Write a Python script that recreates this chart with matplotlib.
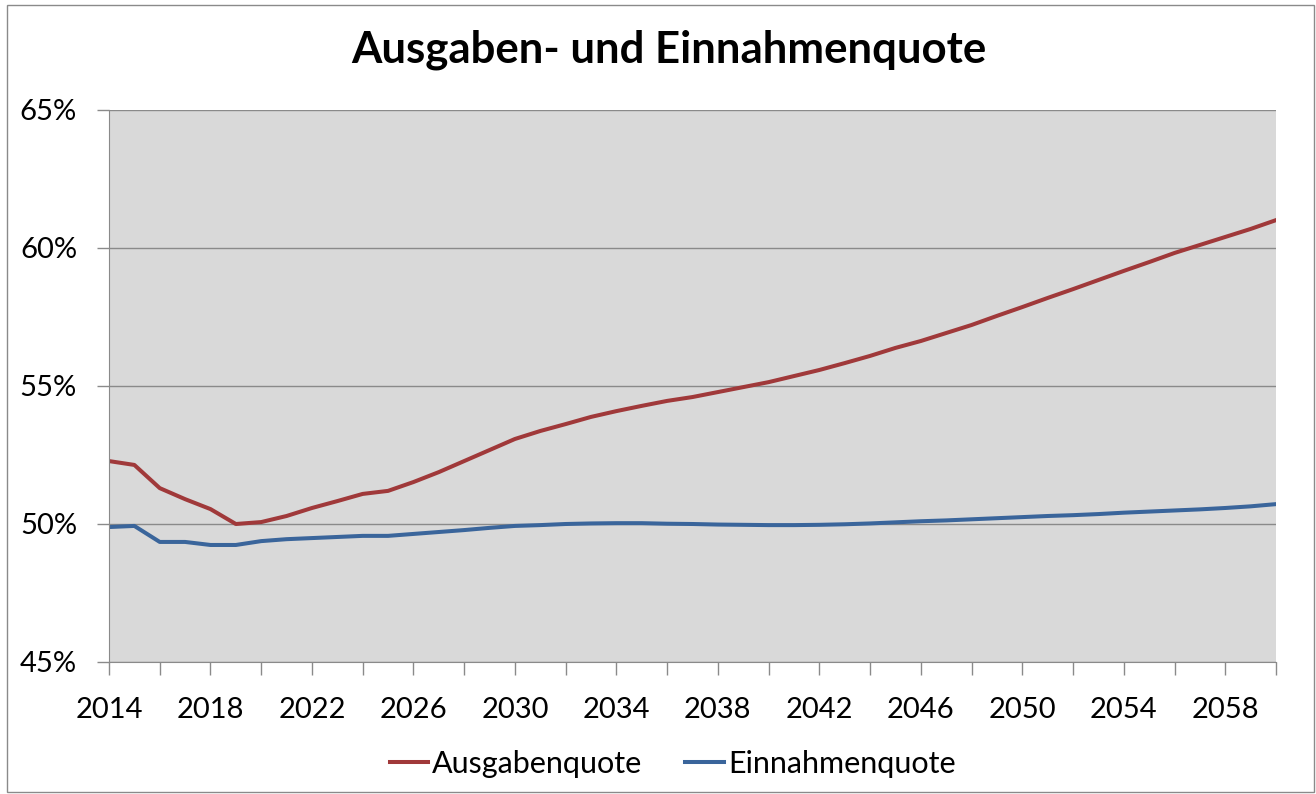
import numpy as np
import matplotlib.pyplot as plt
from matplotlib.patches import Rectangle
from matplotlib.ticker import FuncFormatter, MultipleLocator

plt.rcParams['font.family'] = ['Lato', 'DejaVu Sans']

years = list(range(2014, 2061))
ausgaben = [52.28, 52.14, 51.30, 50.90, 50.54, 50.00, 50.07, 50.29, 50.58, 50.83,
            51.09, 51.20, 51.52, 51.88, 52.28, 52.68, 53.08, 53.37, 53.62, 53.88,
            54.09, 54.28, 54.46, 54.60, 54.78, 54.96, 55.14, 55.36, 55.58, 55.83,
            56.09, 56.38, 56.63, 56.92, 57.21, 57.54, 57.86, 58.19, 58.51, 58.84,
            59.17, 59.49, 59.82, 60.11, 60.40, 60.69, 61.01]
einnahmen = [49.89, 49.93, 49.35, 49.35, 49.24, 49.24, 49.38, 49.45, 49.49, 49.53,
             49.57, 49.57, 49.64, 49.71, 49.78, 49.86, 49.93, 49.96, 50.00, 50.02,
             50.03, 50.03, 50.01, 50.00, 49.98, 49.97, 49.96, 49.96, 49.97, 49.99,
             50.02, 50.06, 50.10, 50.13, 50.17, 50.21, 50.25, 50.29, 50.32, 50.36,
             50.41, 50.45, 50.49, 50.53, 50.58, 50.64, 50.72]

fig = plt.figure(figsize=(13.16, 7.94), dpi=100)
ax = fig.add_axes([109/1316, 1-662/794, (1276-109)/1316, (662-110)/794])
ax.set_facecolor('#d9d9d9')

# Linien
ax.plot(years, ausgaben, color='#a0393a', lw=2.9, label='Ausgabenquote', solid_joinstyle='round')
ax.plot(years, einnahmen, color='#3a659b', lw=2.9, label='Einnahmenquote', solid_joinstyle='round')

ax.set_xlim(2014, 2060)
ax.set_ylim(45, 65)
ax.yaxis.set_major_locator(MultipleLocator(5))
ax.yaxis.set_major_formatter(FuncFormatter(lambda v, p: f'{v:.0f}%'))
ax.set_xticks(range(2014, 2061, 2))
ax.set_xticklabels([str(y) if (y - 2014) % 4 == 0 else '' for y in range(2014, 2061, 2)])
ax.grid(axis='y', color='#8a8a8a', lw=1)
ax.set_axisbelow(True)
for s in ['top', 'right']:
    ax.spines[s].set_visible(False)
for s in ['left', 'bottom']:
    ax.spines[s].set_color('#8a8a8a')
ax.tick_params(axis='both', colors='#8a8a8a', labelcolor='black', labelsize=21, length=9, width=1)
ax.tick_params(axis='x', pad=16)
ax.tick_params(axis='y', pad=14)

fig.text(669/1316, 1-50/794, 'Ausgaben- und Einnahmenquote', ha='center', va='center',
         fontsize=31.5, fontweight='bold')

ax.legend(loc='center', bbox_to_anchor=(0.483, -0.185), ncol=2, frameon=False, fontsize=22,
          handlelength=1.25, handletextpad=0.15, columnspacing=1.4)

# Rahmen
fig.patches.append(Rectangle((7/1316, 0.002), 1 - 9/1316, 1 - 5/794 - 0.002, transform=fig.transFigure,
                             fill=False, edgecolor='#8a8a8a', lw=1))

fig.savefig('out.png', dpi=100)
